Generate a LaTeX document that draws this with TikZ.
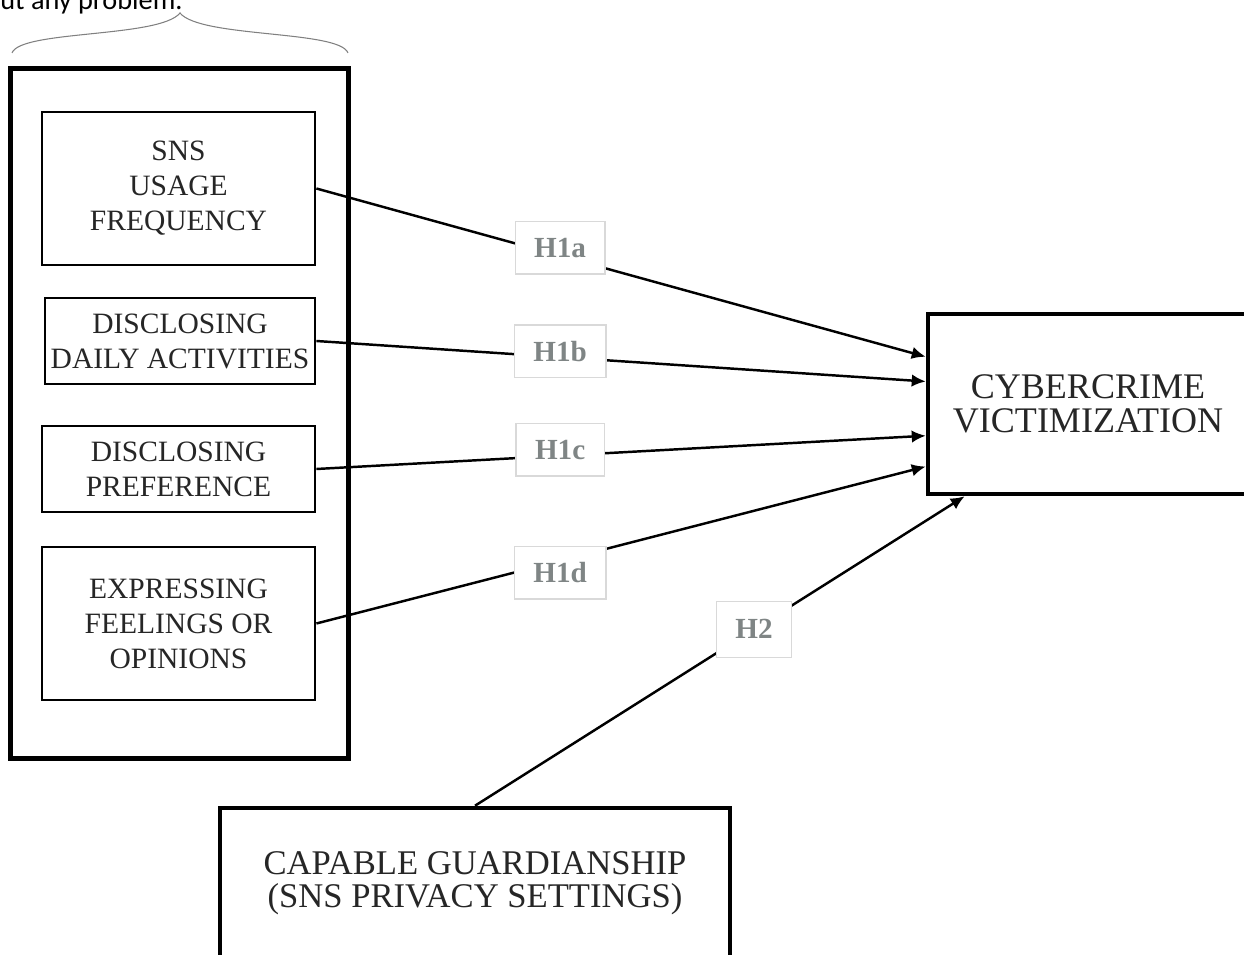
\documentclass[tikz,border=0pt]{standalone}
\usepackage{fontspec}
\setmainfont{Liberation Serif}
\newfontfamily\notefont{Carlito}
\usetikzlibrary{positioning, arrows.meta, calc}
\definecolor{hypgray}{HTML}{7F8585}

\begin{document}
\begin{tikzpicture}[x=0.02cm, y=-0.02cm]
    % Define node styles
    \tikzstyle{var} = [rectangle, draw, line width=1.6pt, align=center, text=black!85, font=\fontsize{16.8}{19.9}\selectfont, minimum width=5.46cm]
    \tikzstyle{bigvar} = [rectangle, draw, line width=2.6pt, align=center, text=black!85]
    \tikzstyle{hyp} = [rectangle, draw=black!15, fill=white, line width=0.8pt, minimum height=1.05cm, inner xsep=0.38cm, text=hypgray, font=\bfseries\fontsize{16.6}{18}\selectfont]
    \tikzstyle{link} = [line width=1.4pt, -{Latex[length=0.28cm, width=0.25cm]}]

    \useasboundingbox (0,0) rectangle (1244,955);

    % Cut-off line of text above
    \node[anchor=base west, inner sep=0pt, font=\notefont\fontsize{16.1}{18}\selectfont] (note) at (0,10) {ut any problem.};

    % SNS activity nodes (left column)
    \node[var, minimum height=3.06cm] (usage) at (178.5,188.5) {SNS\\USAGE\\FREQUENCY};
    \node[var, minimum width=5.4cm, minimum height=1.72cm, inner xsep=2pt] (daily) at (180,341) {DISCLOSING\\DAILY ACTIVITIES};
    \node[var, minimum height=1.72cm] (pref) at (178.5,469) {DISCLOSING\\PREFERENCE};
    \node[var, minimum height=3.06cm] (feel) at (178.5,623.5) {EXPRESSING\\FEELINGS OR\\OPINIONS};

    % Outcome and guardianship nodes
    \node[bigvar, minimum width=6.4cm, minimum height=3.6cm, font=\fontsize{20.5}{19}\selectfont] (victim) at (1088,404) {CYBERCRIME\\VICTIMIZATION};
    \node[bigvar, minimum width=10.2cm, minimum height=3cm, font=\fontsize{19.7}{18.8}\selectfont] (guard) at (475,883) {CAPABLE GUARDIANSHIP\\(SNS PRIVACY SETTINGS)};

    % Box around the left column and brace on top
    \draw[line width=2.6pt] ([xshift=-0.6cm, yshift=0.84cm]usage.north west) rectangle ([xshift=0.64cm, yshift=-1.14cm]feel.south east);
    \draw[gray, line width=0.6pt] (12,53) .. controls (20,30) and (160,38) .. (180,13) .. controls (200,38) and (340,30) .. (348,53);

    % Hypothesis arrows
    \draw[link] (usage.east) -- node[hyp, pos=0.4, yshift=0.16cm] {H1a} ($(victim.north west)!0.244!(victim.south west)$);
    \draw[link] (daily.east) -- node[hyp, pos=0.4, yshift=0.12cm] {H1b} ($(victim.north west)!0.378!(victim.south west)$);
    \draw[link] (pref.east) -- node[hyp, pos=0.4, yshift=0.12cm] {H1c} ($(victim.north west)!0.672!(victim.south west)$);
    \draw[link] (feel.east) -- node[hyp, pos=0.4, yshift=-0.24cm] {H1d} ($(victim.north west)!0.839!(victim.south west)$);
    \draw[link] (guard.north) -- node[hyp, pos=0.57, minimum height=1.12cm] {H2} ($(victim.south west)!0.12!(victim.south east)$);

\end{tikzpicture}
\end{document}
